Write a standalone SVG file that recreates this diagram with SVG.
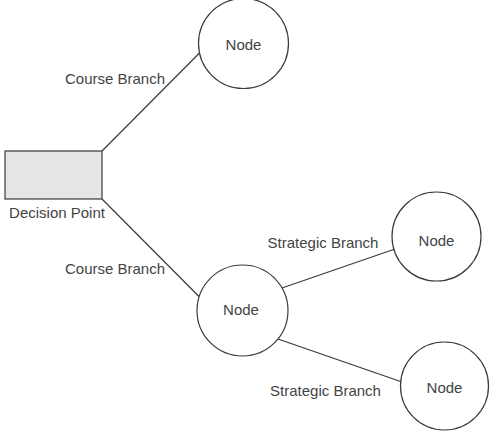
<svg xmlns="http://www.w3.org/2000/svg" width="497" height="432" viewBox="0 0 497 432">
<style>
.n{fill:#fff;stroke:#3a3a3a;stroke-width:1.2}
.t{font-family:"Liberation Sans",Arial,sans-serif;font-size:15px;fill:#444;text-anchor:middle;dominant-baseline:central}
.c{stroke:#3a3a3a;stroke-width:1.2;fill:none}
</style>
<rect width="497" height="432" fill="#fff"/>
<g id="connectors">
<line class="c" x1="102" y1="151" x2="199.5" y2="53"/>
<line class="c" x1="102" y1="199" x2="199.5" y2="297"/>
<line class="c" x1="282" y1="288" x2="395" y2="249"/>
<line class="c" x1="278" y1="339" x2="402" y2="382"/>
<text class="t" x="115" y="78">Course Branch</text>
<text class="t" x="115" y="268">Course Branch</text>
<text class="t" x="323" y="242">Strategic Branch</text>
<text class="t" x="325.5" y="390">Strategic Branch</text>
</g>
<g id="decision">
<rect x="5" y="151" width="97" height="48" fill="#e6e6e6" stroke="#3a3a3a" stroke-width="1.2"/>
<text class="t" x="57" y="212">Decision Point</text>
</g>
<g id="node1">
<circle class="n" cx="243.5" cy="43.5" r="45"/>
<text class="t" x="243.5" y="44">Node</text>
</g>
<g id="node2">
<circle class="n" cx="242.5" cy="310.5" r="45.5"/>
<text class="t" x="241" y="309">Node</text>
</g>
<g id="node3">
<circle class="n" cx="436.5" cy="236.5" r="44.5"/>
<text class="t" x="436.5" y="240">Node</text>
</g>
<g id="node4">
<circle class="n" cx="444.5" cy="386" r="44"/>
<text class="t" x="444.5" y="387">Node</text>
</g>
</svg>
